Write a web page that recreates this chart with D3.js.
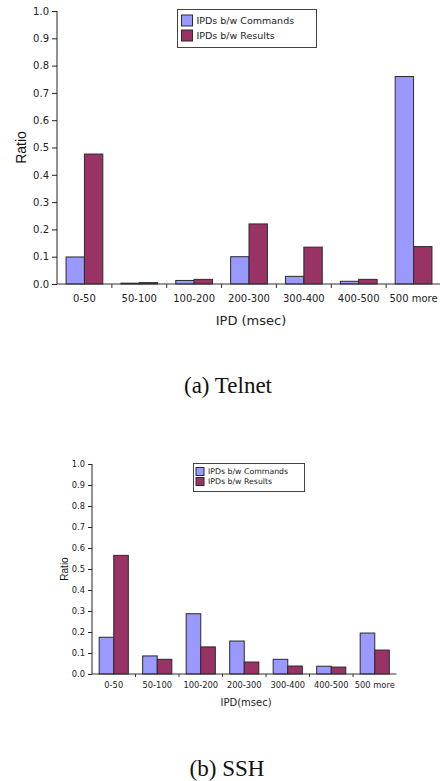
<!DOCTYPE html>
<html>
<head>
<meta charset="utf-8">
<script src="https://cdn.jsdelivr.net/npm/d3@7"></script>
<style>
  body { margin: 0; background: #fff; }
  svg { display: block; }
</style>
</head>
<body>
<svg width="440" height="781"></svg>
<script>
// bins of inter-packet delay
const categories = ["0-50", "50-100", "100-200", "200-300", "300-400", "400-500", "500 more"];
const seriesNames = ["IPDs b/w Commands", "IPDs b/w Results"];
const yTickValues = [0, 0.1, 0.2, 0.3, 0.4, 0.5, 0.6, 0.7, 0.8, 0.9, 1.0];

// (a) Telnet
const telnetCommands = [0.099, 0.003, 0.013, 0.100, 0.028, 0.010, 0.760];
const telnetResults  = [0.476, 0.005, 0.017, 0.220, 0.135, 0.017, 0.137];

// (b) SSH
const sshCommands = [0.175, 0.086, 0.287, 0.157, 0.070, 0.037, 0.195];
const sshResults  = [0.565, 0.070, 0.129, 0.057, 0.038, 0.033, 0.114];

const colors = ["#9999ff", "#993366"];

const svg = d3.select("svg");

function drawChart(series, o) {
  const g = svg.append("g");

  const x = d3.scaleBand().domain(categories).range([o.left, o.right]);
  const groupW = x.bandwidth() * 0.67;
  const xs = d3.scaleBand().domain([0, 1]).range([0, groupW]);
  const y = d3.scaleLinear().domain([0, 1]).range([o.bottom, o.top]);

  // bars
  series.forEach((vals, si) => {
    g.append("g").selectAll("rect")
      .data(vals)
      .join("rect")
      .attr("x", (d, i) => x(categories[i]) + (x.bandwidth() - groupW) / 2 + xs(si))
      .attr("y", d => y(d))
      .attr("width", xs.bandwidth())
      .attr("height", d => o.bottom - y(d))
      .attr("fill", colors[si])
      .attr("stroke", "#2a2a2a")
      .attr("stroke-width", 1);
  });

  // y axis
  const yAxis = g.append("g")
    .attr("transform", `translate(${o.left},0)`)
    .call(d3.axisLeft(y).tickValues(yTickValues).tickFormat(d3.format(".1f")).tickSize(o.tick).tickPadding(3));
  yAxis.select(".domain").attr("d", `M0,${o.top}V${o.bottom}`).attr("stroke", "#222");
  yAxis.selectAll(".tick line").attr("stroke", "#222");
  yAxis.selectAll("text")
    .attr("font-family", "DejaVu Sans")
    .attr("font-size", o.tickFont)
    .attr("fill", "#222");

  // x axis: ticks sit between the bins
  const xAxis = g.append("g").attr("transform", `translate(0,${o.bottom})`);
  xAxis.append("line")
    .attr("x1", o.left).attr("x2", o.right)
    .attr("stroke", "#333");
  xAxis.selectAll("line.sep")
    .data(categories.slice(1))
    .join("line")
    .attr("class", "sep")
    .attr("x1", d => x(d)).attr("x2", d => x(d))
    .attr("y1", 0).attr("y2", o.tick - 1)
    .attr("stroke", "#333");
  xAxis.selectAll("text")
    .data(categories)
    .join("text")
    .attr("x", d => x(d) + x.bandwidth() / 2)
    .attr("y", o.xLabelDy)
    .attr("text-anchor", "middle")
    .attr("font-family", "DejaVu Sans")
    .attr("font-size", o.tickFont)
    .attr("fill", "#222")
    .text(d => d);

  // axis titles
  g.append("text")
    .attr("transform", `translate(${o.yTitleX},${(o.top + o.bottom) / 2}) rotate(-90)`)
    .attr("text-anchor", "middle")
    .attr("dy", "0.35em")
    .attr("font-family", "Liberation Sans")
    .attr("font-size", o.yTitleFont)
    .attr("fill", "#111")
    .text("Ratio");
  g.append("text")
    .attr("x", o.xTitleX)
    .attr("y", o.xTitleY)
    .attr("text-anchor", "middle")
    .attr("font-family", "DejaVu Sans")
    .attr("font-size", o.xTitleFont)
    .attr("fill", "#222")
    .text(o.xTitle);

  // legend
  const lg = g.append("g").attr("transform", `translate(${o.legend[0]},${o.legend[1]})`);
  lg.append("rect")
    .attr("width", o.legend[2]).attr("height", o.legend[3])
    .attr("fill", "#fff").attr("stroke", "#444");
  seriesNames.forEach((name, i) => {
    const cy = o.legendRow0 + i * o.legendStep;
    lg.append("rect")
      .attr("x", o.swatchX).attr("y", cy - o.swatch / 2)
      .attr("width", o.swatch).attr("height", o.swatch)
      .attr("fill", colors[i]).attr("stroke", "#2a2a2a");
    lg.append("text")
      .attr("x", o.swatchX + o.swatch + 4).attr("y", cy)
      .attr("dy", "0.36em")
      .attr("font-family", "DejaVu Sans")
      .attr("font-size", o.legendFont)
      .attr("fill", "#222")
      .text(name);
  });

  // caption
  svg.append("text")
    .attr("x", o.captionX).attr("y", o.captionY)
    .attr("text-anchor", "middle")
    .attr("font-family", "Liberation Serif")
    .attr("font-size", 23)
    .attr("fill", "#111")
    .text(o.caption);
}

drawChart([telnetCommands, telnetResults], {
  left: 57, right: 441, top: 11, bottom: 284, tick: 5,
  tickFont: 10, xLabelDy: 18,
  yTitleX: 21, yTitleFont: 14,
  xTitle: "IPD (msec)", xTitleX: 251, xTitleY: 325, xTitleFont: 13,
  legend: [177.5, 9.5, 139, 38], legendRow0: 11, legendStep: 15,
  swatchX: 4, swatch: 11, legendFont: 9.5,
  caption: "(a) Telnet", captionX: 228, captionY: 393
});

drawChart([sshCommands, sshResults], {
  left: 92, right: 396.5, top: 464, bottom: 674, tick: 4,
  tickFont: 8.3, xLabelDy: 14,
  yTitleX: 64, yTitleFont: 10,
  xTitle: "IPD(msec)", xTitleX: 246, xTitleY: 706, xTitleFont: 10,
  legend: [193.5, 463.5, 111, 28], legendRow0: 8, legendStep: 10,
  swatchX: 2.5, swatch: 8, legendFont: 7.8,
  caption: "(b) SSH", captionX: 227, captionY: 776
});
</script>
</body>
</html>
